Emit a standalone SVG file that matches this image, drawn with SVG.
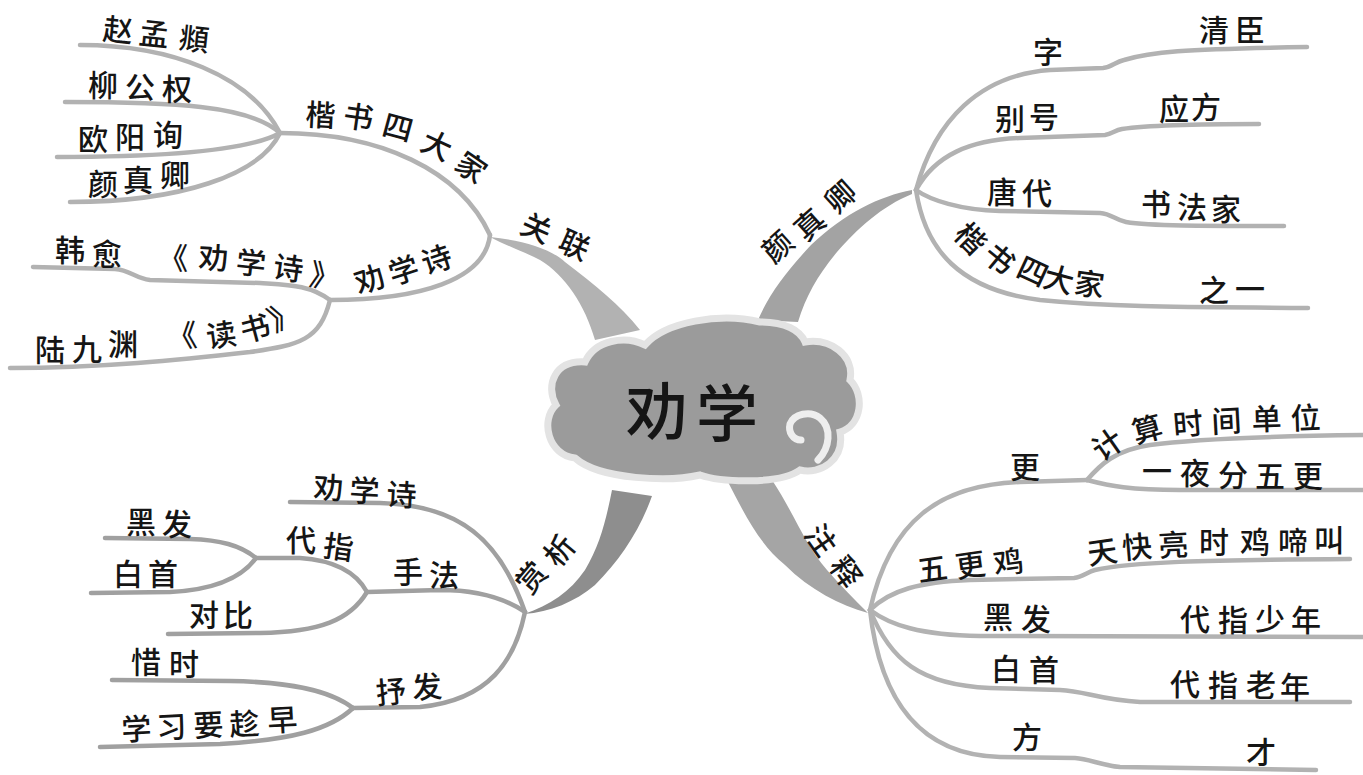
<svg xmlns="http://www.w3.org/2000/svg" width="1363" height="775" viewBox="0 0 1363 775">
<style>
.t{font-family:"Noto Sans CJK SC","Noto Sans CJK TC",sans-serif;font-size:30px;font-weight:500;fill:#151515;text-anchor:middle;dominant-baseline:central}
.ln{fill:none;stroke:#b2b2b2;stroke-width:4.5;stroke-linecap:round;stroke-linejoin:round}
.ln2{fill:none;stroke:#a0a0a0;stroke-width:4.5;stroke-linecap:round;stroke-linejoin:round}
.br{stroke:none}
</style>
<rect width="1363" height="775" fill="#ffffff"/>
<g id="connectors">
  <path class="br" fill="#b2b2b2" d="M490,237 C520,240 550,248 565,262 C595,285 620,305 640,330 L595,340 C585,305 565,275 540,260 C520,250 505,245 490,237 Z"/>
  <path class="br" fill="#a3a3a3" d="M912,190 C880,196 845,213 811,245 C788,270 770,292 758,320 L798,322 C806,296 818,275 837,252 C857,229 882,206 912,194 Z"/>
  <path class="br" fill="#8e8e8e" d="M612,490 C606,520 600,545 585,570 C570,592 550,605 524,614 C550,612 575,602 595,585 C620,560 640,530 652,496 Z"/>
  <path class="br" fill="#a5a5a5" d="M728,482 C745,515 760,545 785,565 C810,590 840,605 868,613 C855,600 840,585 827,570 C805,545 795,515 772,480 Z"/>
  <path class="ln" d="M490,235 C460,170 380,133 280,133"/>
  <path class="ln" d="M280,133 C250,75 170,45 80,45"/>
  <path class="ln" d="M280,133 C250,105 170,102 65,102"/>
  <path class="ln" d="M280,133 C250,150 170,157 57,157"/>
  <path class="ln" d="M280,133 C260,175 180,202 70,202"/>
  <path class="ln" d="M490,235 C485,280 420,300 330,300"/>
  <path class="ln" d="M330,300 C310,285 290,285 260,283 L150,280 C135,278 130,270 115,269 L33,267"/>
  <path class="ln" d="M330,300 C320,340 300,345 250,352 C180,360 100,368 10,368"/>
  <path class="ln" d="M916,190 C935,120 980,75 1050,70 L1103,68 C1112,67 1115,62 1124,60 C1150,52 1180,49 1307,47"/>
  <path class="ln" d="M916,190 C935,155 970,140 1020,138 L1105,135 C1112,134 1115,130 1122,129 C1150,125 1200,124 1259,124"/>
  <path class="ln" d="M916,190 C930,200 960,210 1000,211 L1100,213 C1112,214 1115,220 1126,222 C1150,226 1200,226 1284,226"/>
  <path class="ln" d="M916,190 C925,250 960,290 1040,300 C1120,308 1200,307 1308,308"/>
  <path class="ln2" d="M525,612 C500,540 460,505 380,503 L290,502"/>
  <path class="ln2" d="M525,612 C500,595 470,590 440,590 L367,592"/>
  <path class="ln2" d="M367,592 C355,570 330,560 300,558 L256,558"/>
  <path class="ln2" d="M256,558 C240,545 220,540 190,539 L105,538"/>
  <path class="ln2" d="M256,558 C240,580 210,590 170,592 L91,593"/>
  <path class="ln2" d="M367,592 C350,620 320,632 260,633 L168,634"/>
  <path class="ln2" d="M525,612 C515,660 490,700 420,707 L353,708"/>
  <path class="ln2" d="M353,708 C330,690 290,682 230,681 L112,680"/>
  <path class="ln2" d="M353,708 C330,730 290,740 220,744 L100,747"/>
  <path class="ln" d="M870,610 C890,520 940,485 1020,482 L1087,480"/>
  <path class="ln" d="M1087,480 C1100,465 1115,450 1150,445 C1200,438 1280,436 1363,435"/>
  <path class="ln" d="M1087,480 C1110,486 1130,490 1180,490 L1363,490"/>
  <path class="ln" d="M870,610 C890,590 920,582 970,580 L1074,578 C1083,577 1087,572 1095,570 C1130,562 1200,560 1350,559"/>
  <path class="ln" d="M870,610 C890,625 920,635 980,636 L1363,637"/>
  <path class="ln" d="M870,610 C890,660 920,685 990,688 L1060,690 C1085,691 1100,700 1140,702 L1350,702"/>
  <path class="ln" d="M870,610 C880,700 920,755 1000,757 L1075,758 C1090,759 1100,765 1120,767 L1316,770"/>
</g>
<g id="center">
  <path fill="#9b9b9b" stroke="#e3e3e3" stroke-width="7" d="M575,458 C548,455 540,420 556,405 C545,385 555,360 585,362 C595,340 625,335 645,345 C665,322 720,312 760,322 C785,322 800,330 805,342 C830,338 855,355 850,380 C865,395 862,425 840,432 C845,460 820,475 800,470 C780,485 720,482 700,475 C670,482 600,480 575,458 Z"/>
  <path fill="none" stroke="#eeeeee" stroke-width="7" stroke-linecap="round" d="M801,440 C793,440 788,432 790,424 C794,414 810,410 820,418 C832,428 830,448 818,460"/>
  <text class="t" x="657 727" y="408 410" style="font-size:62px">劝学</text>
</g>
<g id="n-guanlian">
  <text class="t" x="533.3 571.3" y="219.1 236.1" rotate="24 24">关联</text>
</g>
<g id="n-kaishu">
  <text class="t" x="320 357.1 395.5 433.4 467.6" y="112.2 113 121.3 135.9 154.7" rotate="3 8 15 25 35">楷书四大家</text>
  <text class="t" x="117 153 193" y="26.5 30.5 35.5" rotate="6 6 6">赵孟頫</text>
  <text class="t" x="103 140 177" y="83 85 87">柳公权</text>
  <text class="t" x="93 130 168" y="137 135 133">欧阳询</text>
  <text class="t" x="103 138 175" y="182 178 173">颜真卿</text>
</g>
<g id="n-quanxueshi">
  <text class="t" x="373.7 407.7 440.7" y="281.5 272.5 261.5" rotate="-18 -18 -18">劝学诗</text>
  <text class="t" x="70 107" y="248 252">韩愈</text>
  <text class="t" x="173 213 250.1 287.1 323.2" y="256 255.2 259.5 264 271.5" rotate="0 3 6 8 10">《劝学诗》</text>
  <text class="t" x="50 87 123" y="348 347 342">陆九渊</text>
  <text class="t" x="183.1 223.1 258.5 289.4" y="335.3 335 329.8 319.1" rotate="-5 -8 -15 -25">《读书》</text>
</g>
<g id="n-yanzhenqing">
  <text class="t" x="788.7 820.7 851.7" y="251.7 229.7 201.7" rotate="-42 -42 -42">颜真卿</text>
  <text class="t" x="1048" y="50">字</text>
  <text class="t" x="1214 1250" y="28 28">清臣</text>
  <text class="t" x="1010 1044" y="117 115">别号</text>
  <text class="t" x="1174 1206" y="107 105">应方</text>
  <text class="t" x="1002 1037" y="190 191">唐代</text>
  <text class="t" x="1156 1192 1226" y="202 205 207">书法家</text>
  <text class="t" x="967.3 995.4 1029.4 1056.5 1088.1" y="222.8 244.7 261.9 273.3 280" rotate="45 40 25 15 8">楷书四大家</text>
  <text class="t" x="1214 1250" y="288 287">之一</text>
</g>
<g id="n-shangxi">
  <text class="t" x="545.2 573.2" y="583.1 556.1" rotate="-50 -50">赏析</text>
  <text class="t" x="328 364 401" y="485 488 492" rotate="3 3 3">劝学诗</text>
  <text class="t" x="408 444" y="570 573">手法</text>
  <text class="t" x="301 337.1" y="538 543" rotate="0 8">代指</text>
  <text class="t" x="141 177" y="520 522">黑发</text>
  <text class="t" x="128 163" y="572 572">白首</text>
  <text class="t" x="204 238" y="613 613">对比</text>
  <text class="t" x="392 428" y="691.3 686.3" rotate="-5 -5">抒发</text>
  <text class="t" x="146 184" y="660 662">惜时</text>
  <text class="t" x="137 172 209 245 283" y="727.8 725.8 723.8 722.8 718.8" rotate="-3 -3 -3 -3 -3">学习要趁早</text>
</g>
<g id="n-zhushi">
  <text class="t" x="818.2 843.2" y="521.1 553.1" rotate="55 55">注释</text>
  <text class="t" x="1025" y="465">更</text>
  <text class="t" x="1116.6 1150.5 1189 1227 1267 1306" y="449.3 430.8 423.3 419.8 417.5 416.5" rotate="-35 -15 -5 -3 -2 -2">计算时间单位</text>
  <text class="t" x="1157 1195 1233 1270 1308" y="469 471 473 474 474">一夜分五更</text>
  <text class="t" x="934.1 972.1 1010.1" y="569 565 562" rotate="-8 -8 -8">五更鸡</text>
  <text class="t" x="1104.1 1138 1174 1214 1255 1293 1329" y="552 546.3 543.8 540 540 540 538" rotate="-8 -5 -3 0 0 0 0">天快亮时鸡啼叫</text>
  <text class="t" x="998 1036" y="615 617">黑发</text>
  <text class="t" x="1195 1233 1270 1306" y="617 618 617 618">代指少年</text>
  <text class="t" x="1006 1044" y="667 668">白首</text>
  <text class="t" x="1185 1223 1261 1295" y="682 683 683 685">代指老年</text>
  <text class="t" x="1027" y="735">方</text>
  <text class="t" x="1261" y="750">才</text>
</g>
</svg>
